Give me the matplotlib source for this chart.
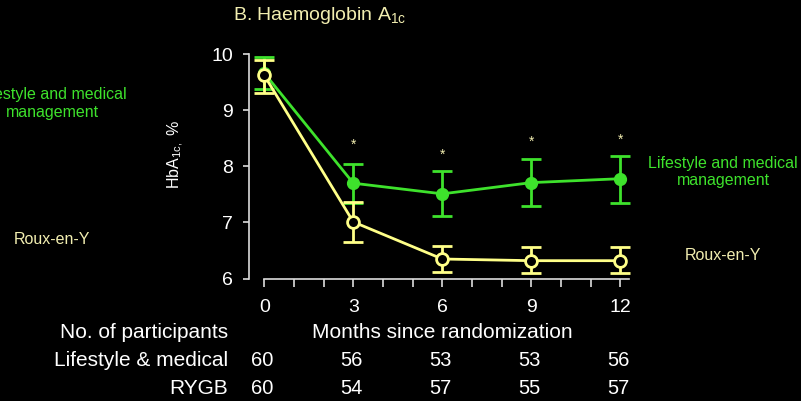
import matplotlib
matplotlib.use("Agg")
import matplotlib.pyplot as plt
import matplotlib.transforms as mtransforms

plt.rcParams['font.family'] = ['Liberation Sans', 'DejaVu Sans']
plt.rcParams['mathtext.fontset'] = 'custom'
plt.rcParams['mathtext.rm'] = 'Liberation Sans'
plt.rcParams['mathtext.default'] = 'regular'

# data
months = [0, 3, 6, 9, 12]
lifestyle = [9.66, 7.70, 7.51, 7.71, 7.78]
lifestyle_lo = [9.37, 7.35, 7.12, 7.29, 7.35]
lifestyle_hi = [9.95, 8.05, 7.91, 8.13, 8.19]
rygb = [9.62, 7.01, 6.35, 6.32, 6.32]
rygb_lo = [9.31, 6.65, 6.12, 6.10, 6.10]
rygb_hi = [9.89, 7.36, 6.58, 6.56, 6.56]
sig_months = [3, 6, 9, 12]
sig_y = [8.38, 8.20, 8.43, 8.47]
n_lifestyle = [60, 56, 53, 53, 56]
n_rygb = [60, 54, 57, 55, 57]

GREEN = '#3ee22c'
YELLOW = '#ffff88'
PALE = '#f2eeb0'
AXC = '#dcdcdc'

fig = plt.figure(figsize=(8.01, 4.01), dpi=100, facecolor='black')
ax = fig.add_axes([0.2929, 0.2771, 0.5186, 0.6162], facecolor='black')
ax.set_xlim(-1, 13)
ax.set_ylim(5.8, 10.2)

err_l = [[m - lo for m, lo in zip(lifestyle, lifestyle_lo)],
         [hi - m for m, hi in zip(lifestyle, lifestyle_hi)]]
err_r = [[m - lo for m, lo in zip(rygb, rygb_lo)],
         [hi - m for m, hi in zip(rygb, rygb_hi)]]

ax.errorbar(months, lifestyle, yerr=err_l, color=GREEN, lw=2, elinewidth=2,
            capsize=7, capthick=2, marker='o', ms=8.5, mfc=GREEN, mec=GREEN,
            clip_on=False, zorder=3)
ax.errorbar(months, rygb, yerr=err_r, color=YELLOW, lw=2, elinewidth=2,
            capsize=7, capthick=2, marker='o', ms=8.5, mfc='black', mec=YELLOW,
            mew=2, clip_on=False, zorder=4)

for x, y in zip(sig_months, sig_y):
    ax.text(x, y, '*', color=PALE, fontsize=10, ha='center', va='center')

# axes styling
for s in ['top', 'right']:
    ax.spines[s].set_visible(False)
ax.spines['left'].set_position(('data', -0.5))
ax.spines['left'].set_bounds(6, 10)
ax.spines['bottom'].set_position(('data', 6))
ax.spines['bottom'].set_bounds(0, 12.3)
for s in ['left', 'bottom']:
    ax.spines[s].set_color(AXC)
    ax.spines[s].set_linewidth(1.2)
ax.set_yticks([6, 7, 8, 9, 10])
ax.set_xticks(months)
ax.set_xticks(range(13), minor=True)
ax.tick_params(axis='y', colors=AXC, labelcolor='white', labelsize=14,
               length=4, width=1.2, pad=8)
ax.tick_params(axis='x', which='both', colors=AXC, labelcolor='white',
               labelsize=14, length=6, width=1.2, pad=9)
ax.set_ylabel(r'HbA$_{1c,}$ %', color='white', fontsize=11.5)
ax.yaxis.set_label_coords(-0.116, 0.546)

fig.text(233 / 801, 1 - 16 / 401, r'B. Haemoglobin A$_{1c}$', color=PALE,
         fontsize=14, ha='left', va='center')

# group labels
fig.text(52 / 801, 1 - 103.5 / 401, 'Lifestyle and medical\nmanagement',
         color=GREEN, fontsize=11.5, ha='center', va='center')
fig.text(52 / 801, 1 - 240 / 401, 'Roux-en-Y', color=PALE, fontsize=11.5,
         ha='center', va='center')
fig.text(723 / 801, 1 - 172 / 401, 'Lifestyle and medical\nmanagement',
         color=GREEN, fontsize=11.5, ha='center', va='center')
fig.text(723 / 801, 1 - 255 / 401, 'Roux-en-Y', color=PALE, fontsize=11.5,
         ha='center', va='center')

# participants table
tr = mtransforms.blended_transform_factory(ax.transData, fig.transFigure)
row_y = [1 - 333 / 401, 1 - 361 / 401, 1 - 388 / 401]
fig.text(228 / 801, row_y[0], 'No. of participants', color='white',
         fontsize=15, ha='right', va='center')
ax.text(6, row_y[0], 'Months since randomization', color='white',
        fontsize=15, ha='center', va='center', transform=tr)
fig.text(228 / 801, row_y[1], 'Lifestyle & medical', color='white',
         fontsize=15, ha='right', va='center')
fig.text(228 / 801, row_y[2], 'RYGB', color='white',
         fontsize=15, ha='right', va='center')
for x, a, b in zip(months, n_lifestyle, n_rygb):
    ax.text(x - 0.07, row_y[1], str(a), color='white', fontsize=14.5,
            ha='center', va='center', transform=tr)
    ax.text(x - 0.07, row_y[2], str(b), color='white', fontsize=14.5,
            ha='center', va='center', transform=tr)

fig.savefig('out.png', dpi=100, facecolor='black')
